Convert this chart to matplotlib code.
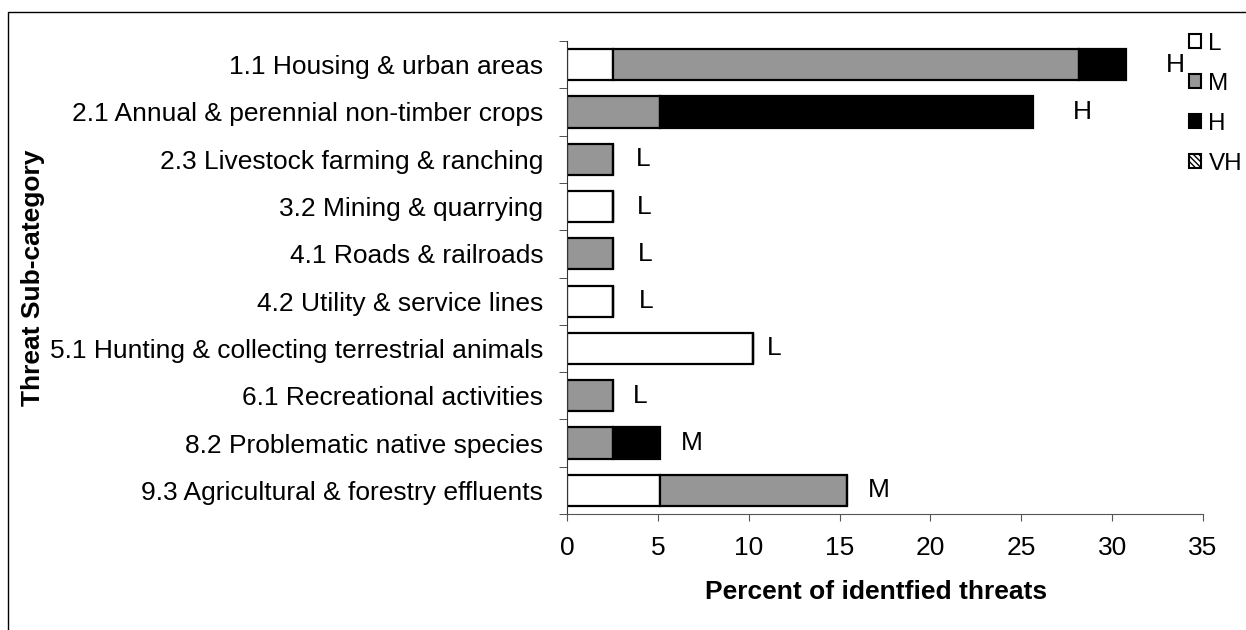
import matplotlib
matplotlib.use("Agg")
from matplotlib import pyplot as plt
from matplotlib.patches import Patch
from matplotlib.lines import Line2D

categories = [
    "1.1 Housing & urban areas",
    "2.1 Annual & perennial non-timber crops",
    "2.3 Livestock farming & ranching",
    "3.2 Mining & quarrying",
    "4.1 Roads & railroads",
    "4.2 Utility & service lines",
    "5.1 Hunting & collecting terrestrial animals",
    "6.1 Recreational activities",
    "8.2 Problematic native species",
    "9.3 Agricultural & forestry effluents",
]
# percent of identified threats by severity
low = [2.56, 0, 0, 2.56, 0, 2.56, 10.26, 0, 0, 5.13]
medium = [25.64, 5.13, 2.56, 0, 2.56, 0, 0, 2.56, 2.56, 10.26]
high = [2.56, 20.51, 0, 0, 0, 0, 0, 0, 2.56, 0]
overall = ["H", "H", "L", "L", "L", "L", "L", "L", "M", "M"]
legend_labels = ["L", "M", "H", "VH"]

# gap (px) between bar end and overall label, as in the original
label_gap = [40, 40, 22, 23, 24, 25, 13, 19, 21, 21]

plt.rcParams['font.family'] = ['Liberation Sans', 'DejaVu Sans']

fig = plt.figure(figsize=(12.46, 6.3), dpi=100)
ax = fig.add_axes([0.455, 0.1841, 0.5105, 0.7508])

ypos = list(range(len(categories)))
h = 0.66
lw = 1.6
left = [0] * len(categories)
for vals, col in [(low, "white"), (medium, "#969696"), (high, "black")]:
    ax.barh(ypos, vals, left=left, height=h, color=col, edgecolor="black", linewidth=lw)
    left = [a + b for a, b in zip(left, vals)]

for y, tot, lab, gap in zip(ypos, left, overall, label_gap):
    ax.annotate(lab, (tot, y), xytext=(gap * 0.72, 0), textcoords="offset points",
                va="center", ha="left", fontsize=19)

ax.set_xlim(0, 35)
ax.set_ylim(len(categories) - 0.5, -0.5)
ax.set_xticks(range(0, 36, 5))
ax.set_yticks(ypos)
ax.set_yticklabels(categories, fontsize=19)
ax.set_yticks([i - 0.5 for i in range(len(categories) + 1)], minor=True)
ax.tick_params(axis="y", which="major", length=0, pad=17)
ax.tick_params(axis="y", which="minor", length=5.5, color="#333333")
ax.tick_params(axis="x", length=5, color="#555555", labelsize=19, pad=11)

for s in ["top", "right"]:
    ax.spines[s].set_visible(False)
ax.spines["left"].set_color("#333333")
ax.spines["bottom"].set_color("#555555")

ax.set_xlabel("Percent of identfied threats", fontsize=19, fontweight="bold")
ax.xaxis.set_label_coords(0.486, -0.14)
ax.set_ylabel("Threat Sub-category", fontsize=19, fontweight="bold")
ax.yaxis.set_label_coords(-0.821, 0.5)

handles = [
    Patch(facecolor="white", edgecolor="black", linewidth=1.5),
    Patch(facecolor="#969696", edgecolor="black", linewidth=1.5),
    Patch(facecolor="black", edgecolor="black", linewidth=1.5),
    Patch(facecolor="white", edgecolor="black", linewidth=1.5, hatch="\\\\\\\\\\\\"),
]
fig.legend(handles, legend_labels, loc="upper left", bbox_to_anchor=(1189 / 1246, 1 - 33 / 630),
           frameon=False, fontsize=17.5, handlelength=0.5, handleheight=0.5,
           handletextpad=0.3, labelspacing=0.74, borderpad=0, borderaxespad=0)

# chart area border (top and left edges visible)
fig.add_artist(Line2D([8 / 1246, 8 / 1246, 1], [0, 1 - 12 / 630, 1 - 12 / 630],
                      color="black", linewidth=1))

fig.savefig("out.png", dpi=100)
